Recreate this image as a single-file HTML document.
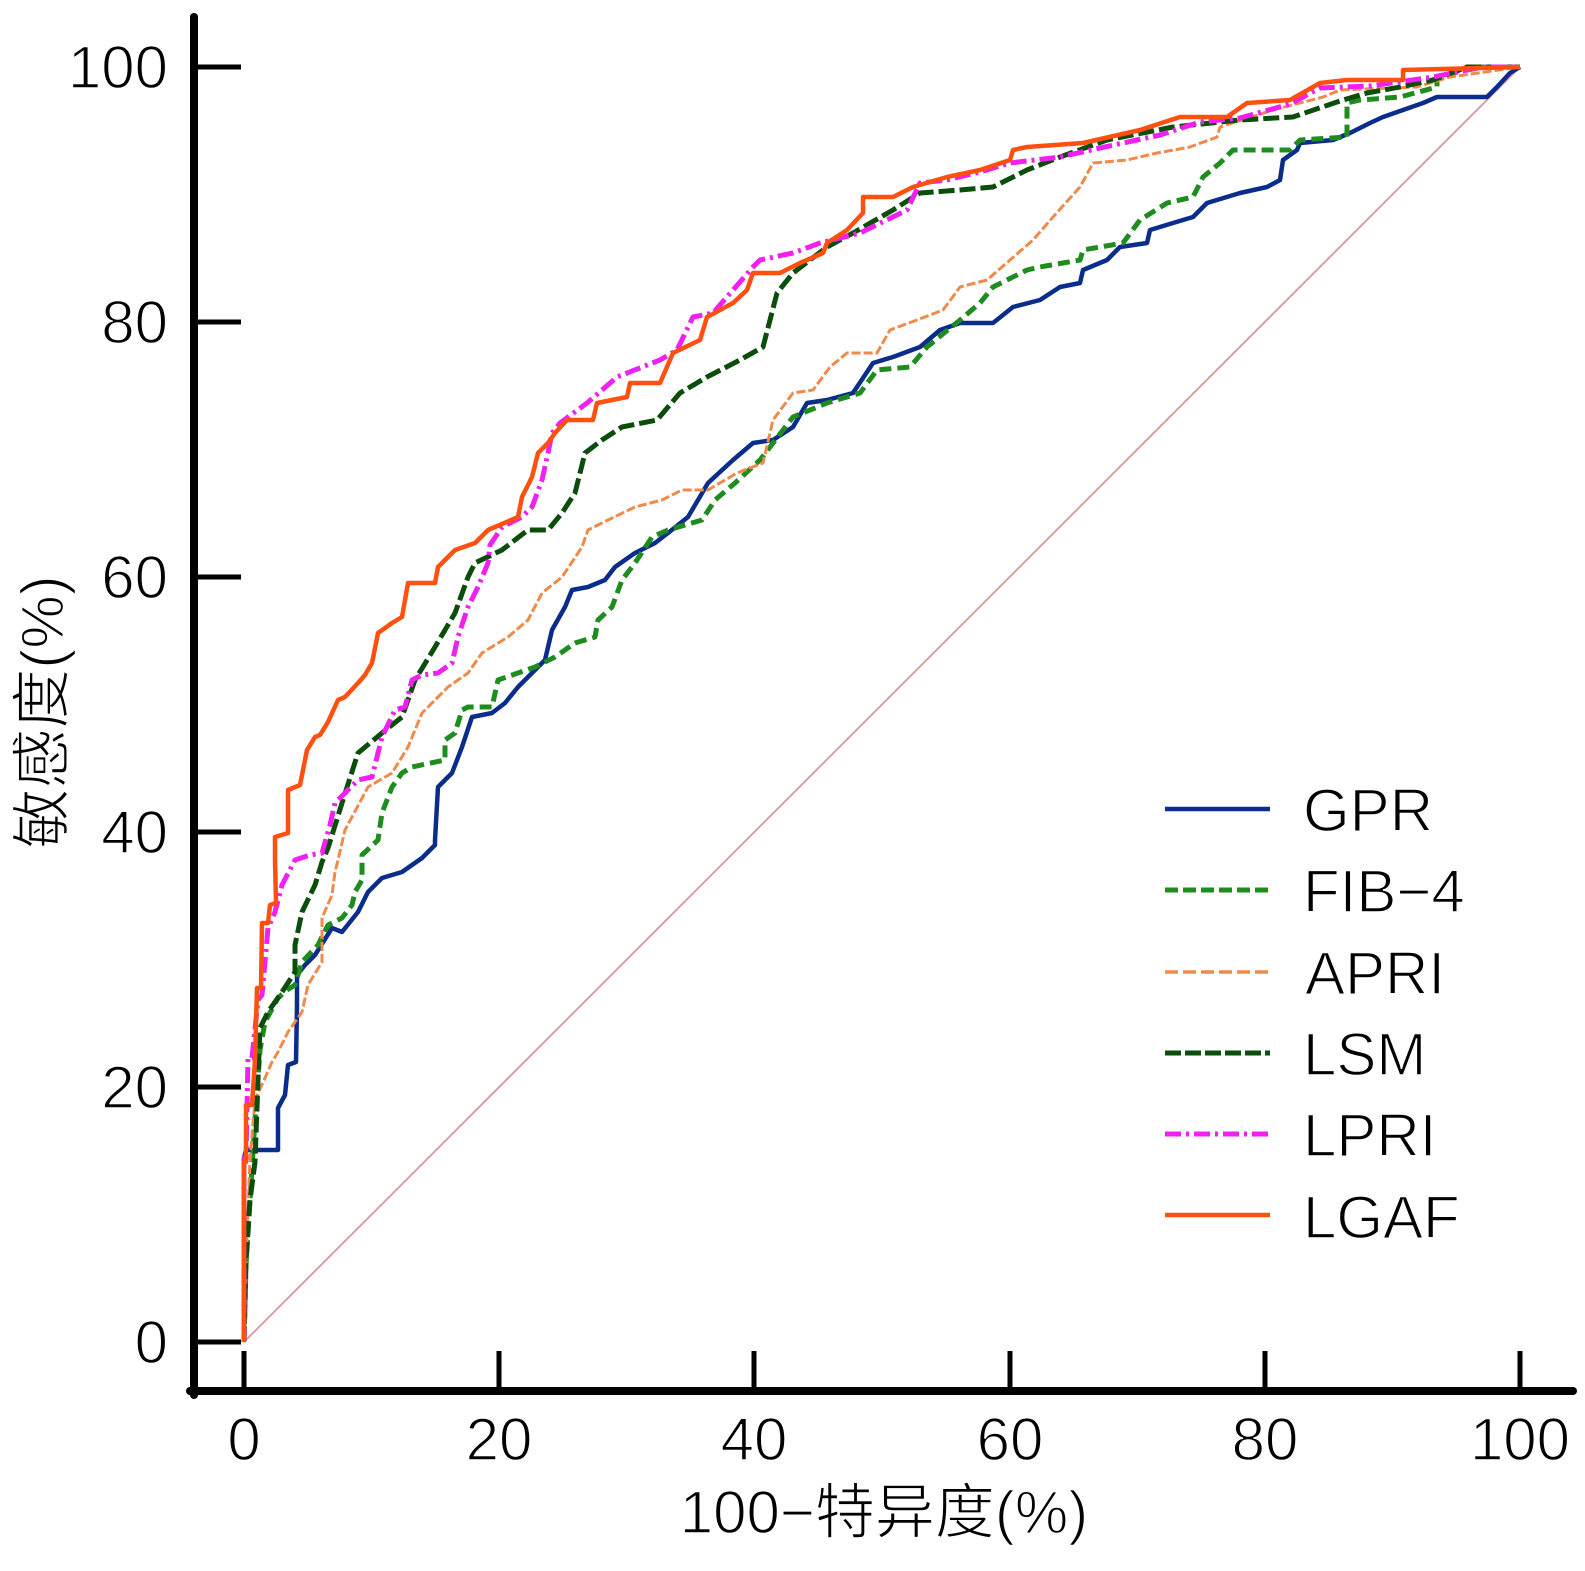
<!DOCTYPE html>
<html>
<head>
<meta charset="utf-8">
<style>
html,body{margin:0;padding:0;background:#fff;}
svg{display:block;}
text{font-family:"Liberation Sans","Noto Sans CJK SC",sans-serif;fill:#000;stroke:#fff;stroke-width:1.4px;paint-order:fill;}
</style>
</head>
<body>
<svg width="1585" height="1571" viewBox="0 0 1585 1571" xmlns="http://www.w3.org/2000/svg">
<rect width="1585" height="1571" fill="#fff"/>

<!-- diagonal -->
<line x1="244" y1="1342" x2="1520" y2="67" stroke="#d49a9a" stroke-width="1.8"/>

<g fill="none" stroke-linejoin="round" stroke-linecap="butt">
<!-- GPR -->
<polyline stroke="#0a2d8c" stroke-width="4.5" points="244,1342 244,1158 246,1150 278,1150 278,1108 285,1095 288,1065 296,1062 297,1005 297,975 305,965 315,955 332,928 342,932 358,912 368,892 382,878 402,872 412,865 422,858 435,845 435,840 438,787 452,773 462,747 472,717 492,713 505,703 518,687 528,677 545,660 552,630 565,607 572,590 588,587 605,580 615,567 635,553 655,543 668,533 688,517 708,483 733,460 753,443 773,440 793,427 807,403 827,400 853,393 873,363 893,357 920,347 940,330 960,323 993,323 1013,307 1040,300 1060,287 1080,283 1083,270 1107,260 1120,247 1147,243 1150,230 1173,223 1193,217 1207,203 1240,193 1267,187 1280,180 1283,160 1297,150 1300,143 1333,140 1350,133 1370,123 1383,117 1403,110 1423,103 1437,97 1487,97 1497,87 1510,73 1520,67"/>
<!-- FIB-4 -->
<polyline stroke="#1e8c1e" stroke-width="5" stroke-dasharray="12 6" points="244,1342 246,1265 250,1200 255,1120 260,1050 265,1022 278,998 287,990 295,985 302,962 318,945 328,925 342,918 352,905 355,892 362,880 362,855 378,840 382,813 392,787 402,773 412,767 445,760 445,740 455,733 462,710 468,707 492,707 498,680 518,673 535,667 555,657 575,643 595,637 598,620 612,607 622,580 635,563 652,537 668,530 702,520 715,500 735,483 760,460 793,417 827,403 860,393 877,370 910,367 927,347 960,320 980,303 993,287 1027,270 1040,267 1080,260 1083,250 1123,243 1140,220 1167,203 1193,197 1203,177 1220,163 1233,150 1290,150 1300,140 1347,137 1347,103 1360,100 1400,97 1437,87 1437,80 1467,67 1520,67"/>
<!-- APRI -->
<polyline stroke="#f08a4b" stroke-width="3" stroke-dasharray="9 3" points="244,1342 246,1262 250,1160 255,1100 265,1078 272,1062 278,1052 288,1032 302,1012 308,985 322,962 322,918 332,895 335,872 338,860 345,830 368,787 392,773 408,747 422,713 448,687 468,673 482,653 508,637 528,620 542,593 562,577 582,547 588,530 608,520 635,507 662,500 682,490 708,490 737,473 763,463 773,420 793,393 813,390 830,367 847,353 877,353 890,330 917,320 943,310 960,287 987,280 1010,260 1033,240 1053,217 1080,187 1093,163 1127,160 1157,153 1190,147 1217,137 1220,127 1273,110 1323,97 1340,90 1417,87 1450,77 1520,67"/>
<!-- LSM -->
<polyline stroke="#0b4d0b" stroke-width="5" stroke-dasharray="16 5" points="244,1342 246,1262 250,1200 255,1162 258,1080 260,1028 268,1012 282,992 295,972 295,945 302,912 315,885 322,862 328,848 342,803 358,753 382,733 402,717 415,680 435,647 455,613 468,577 475,563 502,550 528,530 548,530 562,513 575,493 585,453 602,440 622,427 657,420 680,393 707,377 740,360 763,347 777,293 793,273 827,247 853,233 893,210 920,193 960,190 993,187 1027,170 1060,157 1107,140 1173,127 1240,120 1293,117 1343,100 1367,93 1400,87 1433,80 1467,67 1520,67"/>
<!-- LPRI -->
<polyline stroke="#f020f0" stroke-width="5" stroke-dasharray="16 5 3 5" points="244,1342 244,1158 246,1158 248,1058 252,1058 258,1000 262,995 268,928 275,912 282,885 295,860 310,855 322,853 330,825 335,803 358,780 372,777 382,737 395,710 405,707 412,680 422,675 438,673 452,663 458,637 468,607 478,587 488,563 490,545 502,527 522,517 532,507 542,480 548,453 552,433 560,423 587,403 617,377 660,360 677,350 693,317 713,313 753,267 760,260 793,253 820,243 860,233 907,210 920,183 947,180 980,172 1010,163 1060,157 1100,148 1160,135 1200,122 1240,118 1290,104 1320,88 1370,86 1433,77 1483,67 1520,67"/>
<!-- LGAF -->
<polyline stroke="#ff5010" stroke-width="4.5" points="244,1342 244,1162 246,1162 246,1105 252,1105 255,1060 257,988 261,988 262,923 268,923 270,905 276,903 275,860 275,837 288,833 288,790 300,785 307,750 315,737 320,735 328,722 338,700 345,697 358,683 365,675 372,663 378,633 392,623 402,617 408,583 435,583 438,567 455,550 475,543 488,530 518,517 522,497 532,477 538,453 548,443 555,433 567,420 593,420 597,403 627,397 630,383 660,383 673,353 700,340 707,317 733,303 747,290 753,273 780,273 800,263 823,253 827,243 847,230 863,213 863,197 893,197 913,187 947,177 980,170 1010,160 1013,150 1027,147 1083,143 1140,130 1180,117 1227,117 1247,103 1290,100 1320,83 1347,80 1403,80 1403,70 1520,67"/>
</g>

<!-- axes -->
<line x1="194" y1="17" x2="194" y2="1395" stroke="#000" stroke-width="8" stroke-linecap="round"/>
<line x1="190" y1="1391" x2="1573" y2="1391" stroke="#000" stroke-width="8" stroke-linecap="round"/>

<!-- y ticks -->
<g stroke="#000" stroke-width="5">
<line x1="196" y1="67" x2="241" y2="67"/>
<line x1="196" y1="322" x2="241" y2="322"/>
<line x1="196" y1="577" x2="241" y2="577"/>
<line x1="196" y1="832" x2="241" y2="832"/>
<line x1="196" y1="1087" x2="241" y2="1087"/>
<line x1="196" y1="1342" x2="241" y2="1342"/>
</g>
<!-- x ticks -->
<g stroke="#000" stroke-width="5">
<line x1="244" y1="1351" x2="244" y2="1389"/>
<line x1="499" y1="1351" x2="499" y2="1389"/>
<line x1="754" y1="1351" x2="754" y2="1389"/>
<line x1="1010" y1="1351" x2="1010" y2="1389"/>
<line x1="1265" y1="1351" x2="1265" y2="1389"/>
<line x1="1520" y1="1351" x2="1520" y2="1389"/>
</g>

<!-- y tick labels -->
<g font-size="60" text-anchor="end">
<text x="168" y="88">100</text>
<text x="168" y="343">80</text>
<text x="168" y="598">60</text>
<text x="168" y="853">40</text>
<text x="168" y="1108">20</text>
<text x="168" y="1363">0</text>
</g>
<!-- x tick labels -->
<g font-size="60" text-anchor="middle">
<text x="244" y="1460">0</text>
<text x="499" y="1460">20</text>
<text x="754" y="1460">40</text>
<text x="1010" y="1460">60</text>
<text x="1265" y="1460">80</text>
<text x="1520" y="1460">100</text>
</g>

<!-- axis titles -->
<text x="884" y="1533" font-size="60" text-anchor="middle">100−特异度(%)</text>
<text transform="translate(63,712) rotate(-90)" font-size="60" text-anchor="middle">敏感度(%)</text>

<!-- legend -->
<g fill="none">
<line x1="1165" y1="809" x2="1270" y2="809" stroke="#0a2d8c" stroke-width="4.5"/>
<line x1="1165" y1="890" x2="1270" y2="890" stroke="#1e8c1e" stroke-width="5" stroke-dasharray="13 5"/>
<line x1="1165" y1="972" x2="1270" y2="972" stroke="#f08a4b" stroke-width="3.5" stroke-dasharray="13 5"/>
<line x1="1165" y1="1053" x2="1270" y2="1053" stroke="#0b4d0b" stroke-width="5" stroke-dasharray="16 4"/>
<line x1="1165" y1="1134" x2="1270" y2="1134" stroke="#f020f0" stroke-width="5" stroke-dasharray="16 5 3 5"/>
<line x1="1165" y1="1215" x2="1270" y2="1215" stroke="#ff5010" stroke-width="4.5"/>
</g>
<g font-size="60">
<text x="1303" y="831">GPR</text>
<text x="1303" y="912">FIB−4</text>
<text x="1305" y="994">APRI</text>
<text x="1303" y="1075">LSM</text>
<text x="1303" y="1156">LPRI</text>
<text x="1303" y="1238">LGAF</text>
</g>
</svg>
</body>
</html>
